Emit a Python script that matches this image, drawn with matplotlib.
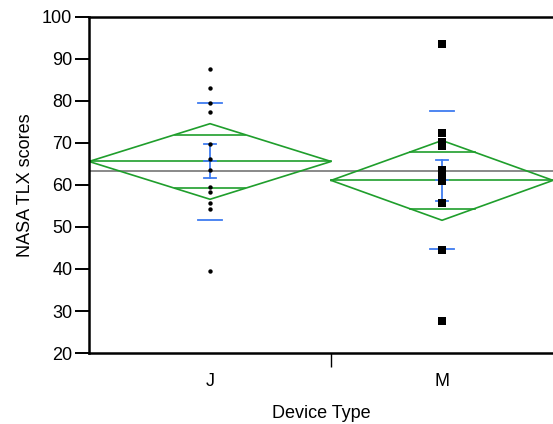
import numpy as np
import matplotlib
matplotlib.use("Agg")
import matplotlib.pyplot as plt

plt.rcParams['font.family'] = ['Liberation Sans', 'DejaVu Sans']

# Data
categories = ["J", "M"]
group_n = [12, 11]
j_scores = [87.6, 83.2, 79.6, 77.4, 69.8, 66.3, 63.6, 59.6, 58.3, 55.6, 54.2, 39.6]
m_scores = [93.5, 72.45, 70.2, 69.3, 63.6, 62.5, 61.4, 61.0, 55.7, 44.5, 27.6]
group_means = [65.6, 61.1]
ci_half = [9.0, 9.5]
std_devs = [14.0, 16.4]
std_errs = [4.05, 4.9]
grand_mean = 63.4
y_ticks = [20, 30, 40, 50, 60, 70, 80, 90, 100]

green = "#1f9e2c"
blue = "#3f7cf0"

W, H = 553, 424
fig = plt.figure(figsize=(W / 100, H / 100), dpi=100)
ax = fig.add_axes([89 / W, (H - 353) / H, (W - 89) / W, (353 - 17) / H])

total = sum(group_n)
edges = np.concatenate([[0], np.cumsum(group_n)])
centers = (edges[:-1] + edges[1:]) / 2

ax.axhline(grand_mean, color="#808080", lw=1.3, zorder=1)

for i, (x0, x1, c) in enumerate(zip(edges[:-1], edges[1:], centers)):
    m, ci = group_means[i], ci_half[i]
    half = (x1 - x0) / 2
    # diamond
    ax.plot([x0, c, x1, c, x0], [m, m + ci, m, m - ci, m], color=green, lw=1.2, zorder=2)
    ax.plot([x0, x1], [m, m], color=green, lw=1.2, zorder=2)
    off = ci / np.sqrt(2)
    hw = half * (1 - 1 / np.sqrt(2))
    for yy in (m + off, m - off):
        ax.plot([c - hw, c + hw], [yy, yy], color=green, lw=1.2, zorder=2)
    # std dev lines
    sd = std_devs[i]
    for yy in (m + sd, m - sd):
        ax.plot([c - 0.6, c + 0.6], [yy, yy], color=blue, lw=1.3, zorder=3)
    # std error bars
    se = std_errs[i]
    ax.plot([c, c], [m - se, m + se], color=blue, lw=1.3, zorder=3)
    for yy in (m - se, m, m + se):
        ax.plot([c - 0.3, c + 0.3], [yy, yy], color=blue, lw=1.3, zorder=3)

ax.scatter(np.full(len(j_scores), centers[0]), j_scores, s=10, marker='o',
           color='black', zorder=5, linewidths=0)
ax.scatter(np.full(len(m_scores), centers[1]), m_scores, s=30, marker='s',
           color='black', zorder=5, linewidths=0)

ax.set_xlim(0, total)
ax.set_ylim(20, 100)
ax.set_yticks(y_ticks)
ax.tick_params(axis='y', length=10, width=1.4, labelsize=13, pad=2)

ax.set_xticks(edges[1:-1])
ax.set_xticklabels([])
ax.tick_params(axis='x', length=10, width=1.0)
for c, lab in zip(centers, categories):
    ax.text(c, -0.085, lab, transform=ax.get_xaxis_transform(), ha='center', va='center', fontsize=13)

ax.spines['right'].set_visible(False)
for s in ('left', 'bottom', 'top'):
    ax.spines[s].set_linewidth(1.8)

ax.set_xlabel("Device Type", fontsize=13, labelpad=24)
ax.set_ylabel("NASA TLX scores", fontsize=13, labelpad=6)

fig.savefig("out.png", dpi=100)
